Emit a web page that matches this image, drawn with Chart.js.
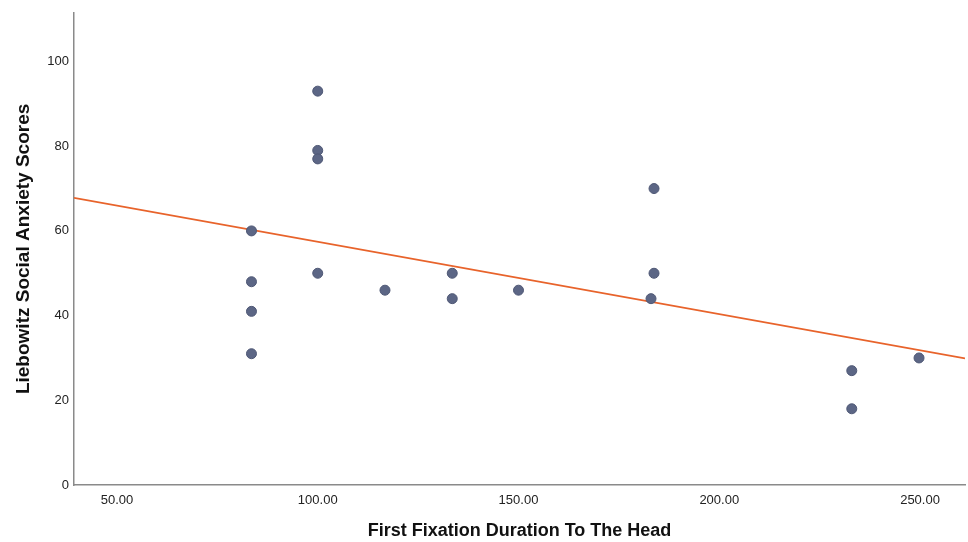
<!DOCTYPE html>
<html>
<head>
<meta charset="utf-8">
<script src="https://cdn.jsdelivr.net/npm/chart.js@4"></script>
<style>
  html, body { margin: 0; padding: 0; background: #fff; overflow: hidden; }
  #wrap { width: 971px; height: 542px; }
</style>
</head>
<body>
<div id="wrap"><canvas id="myChart"></canvas></div>
<script>
// scatter points
var fixation = [83.5, 83.5, 83.5, 83.5, 100, 100, 100, 100, 116.75, 133.5, 133.5, 150, 183, 183.75, 183.75, 233, 233, 249.75];
var anxiety  = [60, 48, 41, 31, 93, 79, 77, 50, 46, 50, 44, 46, 44, 70, 50, 27, 18, 30];

// fit line end points
var fitX = [39.3, 261.2];
var fitY = [67.8, 29.9];

var xTicks = [50, 100, 150, 200, 250];
var yTicks = [0, 20, 40, 60, 80, 100];

var points = fixation.map(function (x, i) { return { x: x, y: anxiety[i] }; });
var fitLine = fitX.map(function (x, i) { return { x: x, y: fitY[i] }; });

Chart.defaults.font.family = 'Arial, "Liberation Sans", sans-serif';

var ctx = document.getElementById('myChart').getContext('2d');
var chart = new Chart(ctx, {
    type: 'scatter',
    data: {
        datasets: [{
            label: 'Scores',
            data: points,
            backgroundColor: '#5c6685',
            borderColor: '#4f5875',
            borderWidth: 1,
            pointRadius: 5,
            order: 1
        }, {
            type: 'line',
            label: 'Fit',
            data: fitLine,
            borderColor: '#e8632b',
            borderWidth: 1.6,
            pointRadius: 0,
            fill: false,
            order: 2
        }]
    },
    options: {
        responsive: true,
        maintainAspectRatio: false,
        animation: false,
        layout: { padding: { top: 0, right: 0, bottom: 0, left: 0 } },
        plugins: { legend: { display: false }, tooltip: { enabled: false } },
        scales: {
            x: {
                type: 'linear',
                min: 39.3,
                max: 261.2,
                afterBuildTicks: function (axis) {
                    axis.ticks = xTicks.map(function (v) { return { value: v }; });
                },
                afterFit: function (axis) { axis.height = 57; },
                grid: { display: false, drawTicks: false },
                border: { display: true, color: '#8a8a8a', width: 1.5 },
                ticks: {
                    color: '#222',
                    font: { size: 13 },
                    padding: 8,
                    maxRotation: 0,
                    callback: function (v) { return v.toFixed(2); }
                },
                title: {
                    display: true,
                    text: 'First Fixation Duration To The Head',
                    color: '#111',
                    font: { size: 18, weight: 'bold' },
                    padding: { top: 0, bottom: 0 }
                }
            },
            y: {
                min: 0,
                max: 111.5,
                afterBuildTicks: function (axis) {
                    axis.ticks = yTicks.map(function (v) { return { value: v }; });
                },
                afterFit: function (axis) { axis.width = 74; },
                grid: { display: false, drawTicks: false },
                border: { display: true, color: '#8a8a8a', width: 1.5 },
                ticks: {
                    color: '#222',
                    font: { size: 13 },
                    padding: 5
                },
                title: {
                    display: true,
                    text: 'Liebowitz Social Anxiety Scores',
                    color: '#111',
                    font: { size: 19, weight: 'bold' },
                    padding: { top: 12, bottom: 0 }
                }
            }
        }
    }
});
</script>
</body>
</html>
